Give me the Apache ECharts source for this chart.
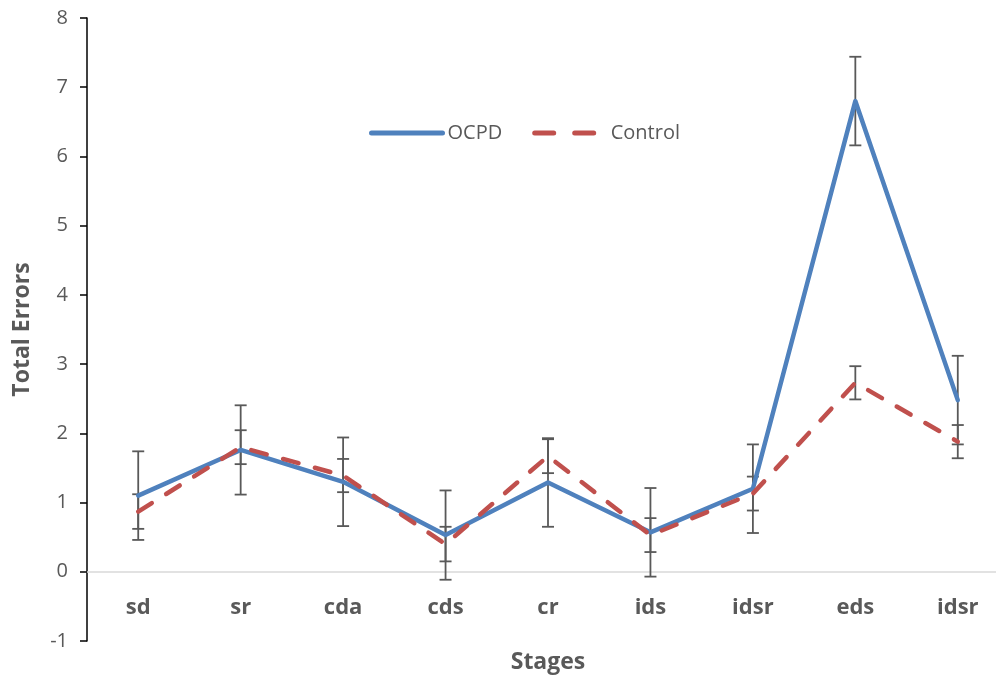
<!DOCTYPE html>
<html>
<head>
<meta charset="utf-8">
<script src="https://cdn.jsdelivr.net/npm/echarts@6/dist/echarts.min.js"></script>
<style>
html,body{margin:0;padding:0;background:#fff;}
#main{width:996px;height:679px;}
</style>
</head>
<body>
<div id="main"></div>
<script>
var categories = ['sd','sr','cda','cds','cr','ids','idsr','eds','idsr'];
var ocpdValues = [1.10, 1.76, 1.30, 0.53, 1.29, 0.57, 1.20, 6.80, 2.48];
var ocpdErrors = [0.64, 0.645, 0.64, 0.645, 0.64, 0.64, 0.64, 0.64, 0.64];
var controlValues = [0.87, 1.80, 1.39, 0.40, 1.67, 0.53, 1.13, 2.73, 1.88];
var controlErrors = [0.25, 0.245, 0.24, 0.25, 0.245, 0.245, 0.245, 0.24, 0.24];
var yTicks = [-1, 0, 1, 2, 3, 4, 5, 6, 7, 8];

var FONT = '"Open Sans", sans-serif';
var TXT = '#595959';
var GRID_H = 623;
var unitPx = GRID_H / (yTicks[yTicks.length - 1] - yTicks[0]);

function errData(vals, errs) {
  return vals.map(function (v, i) { return [i, v, errs[i]]; });
}
function errRender(params, api) {
  var i = api.value(0), v = api.value(1), e = api.value(2);
  var hi = api.coord([i, v + e]);
  var lo = api.coord([i, v - e]);
  var half = 6;
  var st = { stroke: '#595959', lineWidth: 1.8 };
  return {
    type: 'group',
    children: [
      { type: 'line', shape: { x1: hi[0], y1: hi[1], x2: lo[0], y2: lo[1] }, style: st },
      { type: 'line', shape: { x1: hi[0] - half, y1: hi[1], x2: hi[0] + half, y2: hi[1] }, style: st },
      { type: 'line', shape: { x1: lo[0] - half, y1: lo[1], x2: lo[0] + half, y2: lo[1] }, style: st }
    ]
  };
}

var chart = echarts.init(document.getElementById('main'));
chart.setOption({
  animation: false,
  backgroundColor: '#fff',
  textStyle: { fontFamily: FONT },
  grid: { left: 87, top: 18, width: 922, height: GRID_H, containLabel: false, outerBoundsMode: 'none' },
  legend: {
    left: 364, top: 118,
    itemWidth: 71, itemHeight: 14, itemGap: 30,
    itemStyle: { opacity: 0 },
    data: [
      { name: 'OCPD', lineStyle: { width: 5, cap: 'round' } },
      { name: 'Control', lineStyle: { width: 5, cap: 'round', type: [19, 21] } }
    ],
    textStyle: { fontSize: 20, color: TXT, fontFamily: FONT }
  },
  xAxis: {
    type: 'category',
    data: categories,
    boundaryGap: true,
    position: 'bottom',
    offset: -unitPx * (0 - yTicks[0]),
    axisLine: { onZero: false, lineStyle: { color: '#d9d9d9', width: 1.5 } },
    axisTick: { show: false },
    axisLabel: { margin: 25, fontSize: 22, fontWeight: 'bold', color: TXT, fontFamily: FONT, interval: 0 },
    name: 'Stages',
    nameLocation: 'middle',
    nameGap: 79,
    nameTextStyle: { fontSize: 23, fontWeight: 'bold', color: TXT, fontFamily: FONT }
  },
  yAxis: {
    type: 'value',
    min: yTicks[0], max: yTicks[yTicks.length - 1], interval: 1,
    splitLine: { show: false },
    axisLine: { show: true, onZero: false, lineStyle: { color: '#000', width: 1.5 } },
    axisTick: { show: true, inside: false, length: 7, lineStyle: { color: '#000', width: 1.5 } },
    axisLabel: { margin: 19, fontSize: 20, color: TXT, fontFamily: FONT },
    name: 'Total Errors',
    nameLocation: 'middle',
    nameGap: 53,
    nameRotate: 90,
    nameTextStyle: { fontSize: 23, fontWeight: 'bold', color: TXT, fontFamily: FONT }
  },
  series: [
    {
      name: 'OCPDerr', type: 'custom', renderItem: errRender,
      data: errData(ocpdValues, ocpdErrors), encode: { x: 0, y: 1 }, z: 1, silent: true
    },
    {
      name: 'Controlerr', type: 'custom', renderItem: errRender,
      data: errData(controlValues, controlErrors), encode: { x: 0, y: 1 }, z: 1, silent: true
    },
    {
      name: 'OCPD', type: 'line', data: ocpdValues, symbol: 'none', z: 3,
      itemStyle: { color: '#4f81bd' },
      lineStyle: { color: '#4f81bd', width: 4.5, cap: 'round', join: 'round' }
    },
    {
      name: 'Control', type: 'line', data: controlValues, symbol: 'none', z: 4,
      itemStyle: { color: '#c0504d' },
      lineStyle: { color: '#c0504d', width: 4.5, type: [16, 17], cap: 'round', join: 'round' }
    }
  ]
});
</script>
</body>
</html>
